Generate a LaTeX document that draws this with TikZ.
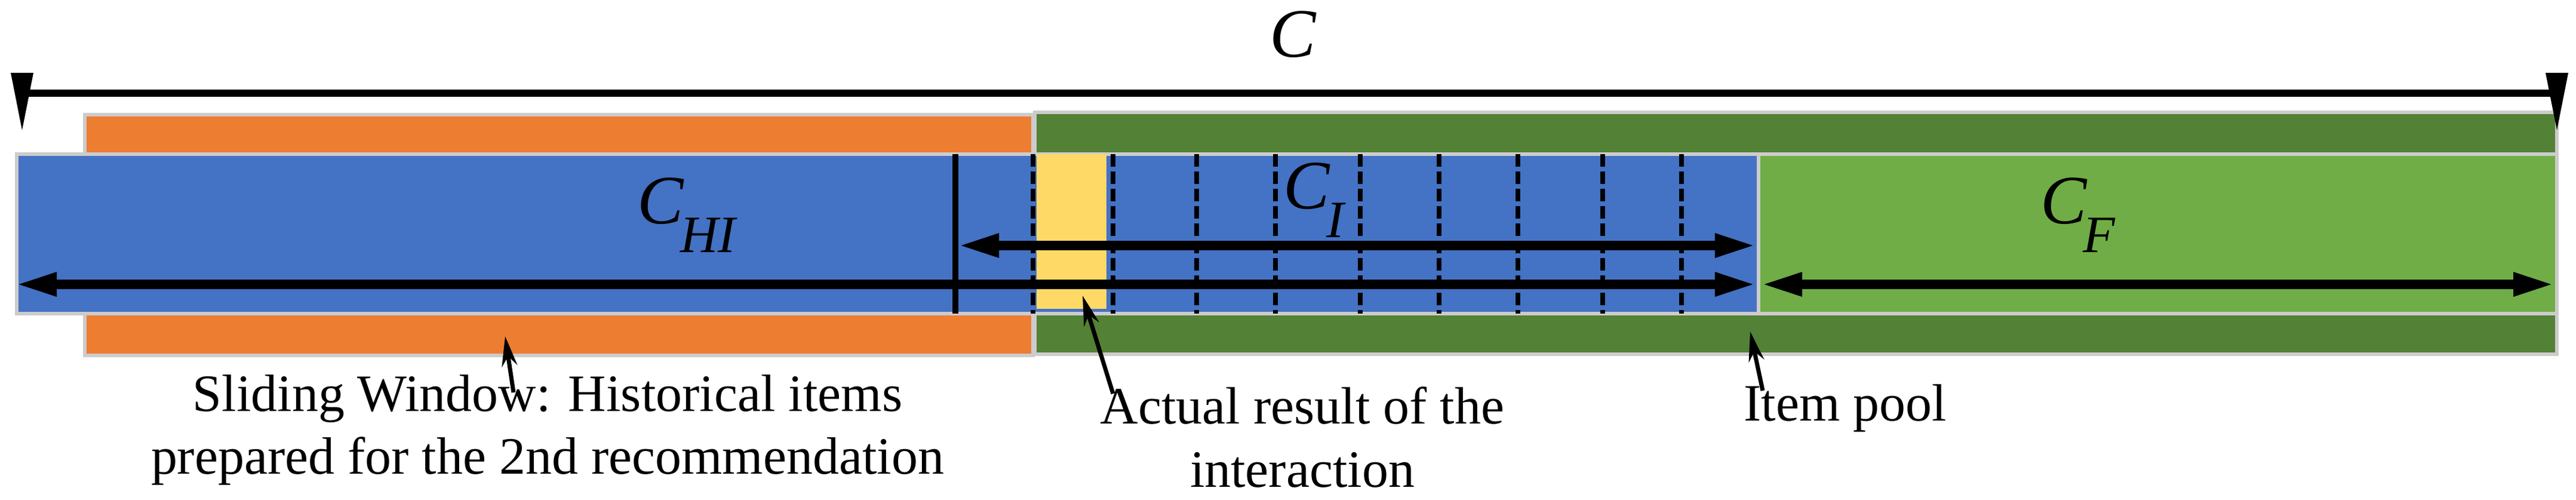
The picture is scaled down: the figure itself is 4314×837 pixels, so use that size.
\documentclass[tikz,border=0pt]{standalone}
\usepackage{fontspec}
\setmainfont{Liberation Serif}
\usetikzlibrary{arrows.meta, positioning}
\definecolor{histOrange}{HTML}{ED7D31}
\definecolor{poolGreen}{HTML}{538135}
\definecolor{itemBlue}{HTML}{4472C4}
\definecolor{futureGreen}{HTML}{70AD47}
\definecolor{resultYellow}{HTML}{FFD966}
\tikzstyle{band} = [draw=black!20, line width=1.5pt]
\tikzstyle{bigArrow} = [line width=0.16cm, black,
   arrows={-Triangle[length=0.7cm, width=0.36cm]}]
\tikzstyle{bigBoth} = [bigArrow, arrows={Triangle[length=0.7cm, width=0.36cm]-Triangle[length=0.7cm, width=0.36cm]}]
\tikzstyle{slot} = [line width=2.5pt, dash pattern=on 0.21cm off 0.08cm]
\tikzstyle{callout} = [line width=2pt, -{Stealth[length=0.5cm, width=0.26cm]}]
\tikzstyle{caption} = [align=center, font=\fontsize{25}{30}\selectfont]
\tikzstyle{bigC} = [font=\fontsize{33}{33}\selectfont\itshape]
\newcommand{\sublabel}[1]{\kern-0.05em\raisebox{-0.42em}{\fontsize{25}{25}\selectfont\itshape #1}}
\begin{document}
\begin{tikzpicture}[x=0.01cm, y=-0.01cm]
  \useasboundingbox (0,0) rectangle (4314,837);
  % outer bands
  \fill[band, fill=histOrange] (142,192) rectangle (1730,595);
  \fill[band, fill=poolGreen] (1733,188) rectangle (4282,593);
  % item strips
  \fill[band, fill=itemBlue] (28,258) rectangle (2945,525);
  \fill[band, fill=futureGreen] (2945,258) rectangle (4282,525);
  \fill[resultYellow] (1736,258) rectangle (1853,517);
  \draw[line width=3pt] (1600,258) -- (1600,525);
  \foreach \x in {1730,1864,2004,2136,2278,2410,2542,2684,2816}
    \draw[slot] (\x,258) -- (\x,525);

  % total length C
  \coordinate (cLeft) at (37,156);
  \coordinate (cRight) at (4282,156);
  \draw[line width=3.5pt] (cLeft) -- (cRight);
  \fill (cLeft) ++(-19,-34) -- ++(38,0) -- ++(-19,96) -- cycle;
  \fill (cRight) ++(-19,-34) -- ++(38,0) -- ++(-19,96) -- cycle;
  \node[bigC] (C) at (2165,58) {C};

  % span arrows
  \coordinate (iLeft) at (1603,411);
  \coordinate (iRight) at (2942,411);
  \coordinate (hLeft) at (25,476);
  \coordinate (hRight) at (2942,476);
  \coordinate (fLeft) at (2948,476);
  \coordinate (fRight) at (4279,476);
  \draw[bigBoth] (iLeft) -- (iRight);
  \draw[bigBoth] (hLeft) -- (hRight);
  \draw[bigBoth] (fLeft) -- (fRight);

  \node[bigC] (CHI) at (1150,360) {C\sublabel{HI}};
  \node[bigC] (CI) at (2200,335) {C\sublabel{I}};
  \node[bigC] (CF) at (3480,360) {C\sublabel{F}};

  % captions
  \node[caption] (window) at (917,720) {Sliding Window: Historical items\\prepared for the 2nd recommendation};
  \node[caption] (result) at (2181,732) {Actual result of the\\interaction};
  \node[caption] (pool) at (3090,683) {Item pool};
  \coordinate (windowTip) at (846,563);
  \coordinate (resultTip) at (1813,495);
  \coordinate (poolTip) at (2931,555);
  \draw[callout] (860,657) -- (windowTip);
  \draw[callout] (1864,659) -- (resultTip);
  \draw[callout] (2952,654) -- (poolTip);
\end{tikzpicture}
\end{document}
